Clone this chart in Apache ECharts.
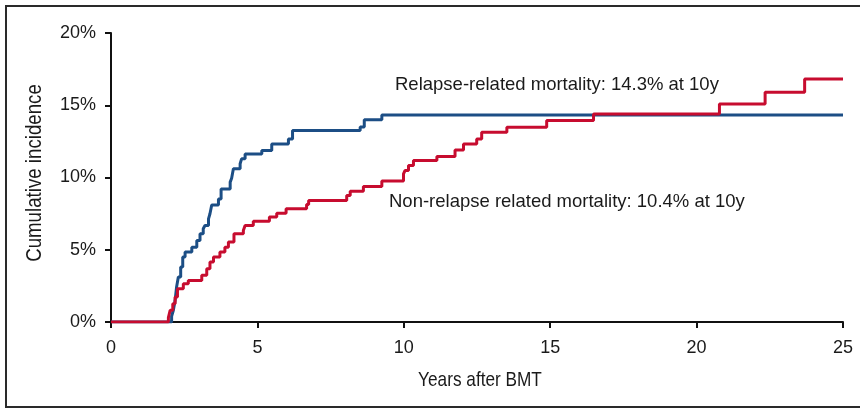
<!DOCTYPE html>
<html>
<head>
<meta charset="utf-8">
<script src="https://cdn.jsdelivr.net/npm/echarts@6/dist/echarts.min.js"></script>
<style>
html,body{margin:0;padding:0;background:#fff;}
#chart{width:860px;height:408px;}
</style>
</head>
<body>
<div id="chart"></div>
<script>
// Relapse-related mortality (blue) step curve: time in years, cumulative incidence in %
var relapseTimes  = [0, 2.07, 2.13, 2.19, 2.24, 2.30, 2.38, 2.45, 2.53, 2.76, 2.93, 3.04, 3.15, 3.21, 3.33, 3.38, 3.44, 3.67, 3.76, 4.07, 4.12, 4.18, 4.41, 4.46, 4.58, 5.15, 5.49, 6.06, 6.20, 8.51, 8.65, 9.25, 25];
var relapseValues = [0, 0.40, 0.81, 1.50, 2.42, 3.11, 3.80, 4.49, 4.84, 5.18, 5.64, 6.10, 6.45, 6.68, 7.14, 7.49, 8.10, 8.52, 9.21, 9.68, 9.95, 10.60, 10.95, 11.29, 11.63, 11.86, 12.32, 12.67, 13.25, 13.50, 14.00, 14.33, 14.33];

// Non-relapse related mortality (red) step curve
var nrmTimes  = [0, 1.96, 2.02, 2.11, 2.19, 2.27, 2.47, 2.64, 3.10, 3.27, 3.38, 3.50, 3.72, 3.89, 4.01, 4.20, 4.52, 4.58, 4.86, 5.41, 5.66, 5.98, 6.68, 6.75, 8.05, 8.17, 8.62, 9.25, 9.99, 10.04, 10.16, 10.33, 11.13, 11.75, 12.04, 12.49, 12.66, 13.52, 14.88, 16.48, 20.78, 22.34, 23.69, 25.0];
var nrmValues = [0, 0.30, 0.81, 1.27, 1.73, 2.30, 2.65, 2.88, 3.23, 3.69, 4.15, 4.49, 4.84, 5.18, 5.53, 6.10, 6.33, 6.68, 6.98, 7.26, 7.53, 7.83, 8.13, 8.41, 8.75, 9.05, 9.38, 9.75, 10.25, 10.48, 10.83, 11.17, 11.45, 11.91, 12.32, 12.67, 13.13, 13.48, 13.94, 14.40, 15.09, 15.90, 16.82, 16.82];

var xTicks = [0, 5, 10, 15, 20, 25];
var yTicks = [0, 5, 10, 15, 20];

var labelRelapse = 'Relapse-related mortality: 14.3% at 10y';
var labelNrm = 'Non-relapse related mortality: 10.4% at 10y';
var xTitle = 'Years after BMT';
var yTitle = 'Cumulative incidence';

function pairs(t, v) { return t.map(function (x, i) { return [x, v[i]]; }); }

var chart = echarts.init(document.getElementById('chart'), null, {renderer: 'canvas'});
var sans = 'Liberation Sans, Arial, sans-serif';
var tickFont = {fontFamily: sans, fontSize: 18, color: '#1a1a1a'};

chart.setOption({
  animation: false,
  backgroundColor: '#ffffff',
  grid: {left: 111, right: 17, top: 33, bottom: 86, containLabel: false},
  xAxis: {
    type: 'value',
    min: xTicks[0], max: xTicks[xTicks.length - 1], interval: 5,
    axisLine: {show: true, onZero: false, lineStyle: {color: '#111', width: 2}},
    axisTick: {show: true, length: 6, lineStyle: {color: '#111', width: 2}},
    axisLabel: Object.assign({margin: 17}, tickFont),
    splitLine: {show: false}
  },
  yAxis: {
    type: 'value',
    min: yTicks[0], max: yTicks[yTicks.length - 1], interval: 5,
    axisLine: {show: true, lineStyle: {color: '#111', width: 2}},
    axisTick: {show: true, length: 6, lineStyle: {color: '#111', width: 2}},
    axisLabel: Object.assign({margin: 15, formatter: '{value}%'}, tickFont),
    splitLine: {show: false}
  },
  series: [
    {
      name: 'Relapse-related mortality', type: 'line', step: 'end',
      data: pairs(relapseTimes, relapseValues),
      showSymbol: false, symbol: 'none',
      lineStyle: {color: '#1c4e85', width: 3}, z: 2
    },
    {
      name: 'Non-relapse related mortality', type: 'line', step: 'end',
      data: pairs(nrmTimes, nrmValues),
      showSymbol: false, symbol: 'none',
      lineStyle: {color: '#c70c2f', width: 3}, z: 3
    }
  ],
  graphic: [
    {type: 'rect', shape: {x: 6, y: 6, width: 900, height: 401}, style: {fill: 'none', stroke: '#2a2a2a', lineWidth: 2}, silent: true},
    {type: 'text', left: 395, top: 75, style: {text: labelRelapse, fontFamily: sans, fontSize: 18.5, fill: '#1a1a1a'}},
    {type: 'text', left: 389, top: 192, style: {text: labelNrm, fontFamily: sans, fontSize: 18.5, fill: '#1a1a1a'}},
    {type: 'text', x: 480, y: 380, scaleX: 0.82, scaleY: 1,
      style: {text: xTitle, fontFamily: sans, fontSize: 21, fill: '#1a1a1a', align: 'center', verticalAlign: 'middle'}},
    {type: 'text', x: 35, y: 173, rotation: Math.PI / 2, scaleX: 0.85, scaleY: 1,
      style: {text: yTitle, fontFamily: sans, fontSize: 22, fill: '#1a1a1a', align: 'center', verticalAlign: 'middle'}}
  ]
});
</script>
</body>
</html>
